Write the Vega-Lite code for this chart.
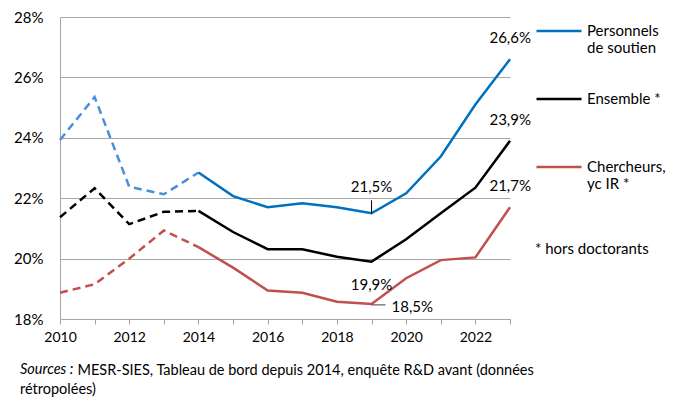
{
  "$schema": "https://vega.github.io/schema/vega-lite/v6.json",
  "autosize": "none",
  "width": 450,
  "height": 302,
  "padding": {"left": 60, "top": 17, "right": 167, "bottom": 82},
  "background": "white",
  "title": {
    "text": "Sources :",
    "subtitle": "rétropolées)",
    "orient": "bottom",
    "anchor": "start",
    "frame": "group",
    "dx": -40,
    "offset": -14,
    "font": "Lato",
    "fontSize": 14.5,
    "fontStyle": "italic",
    "fontWeight": "normal",
    "color": "#000000",
    "subtitleFont": "Lato",
    "subtitleFontSize": 14.5,
    "subtitleFontStyle": "normal",
    "subtitleColor": "#000000",
    "subtitlePadding": 6
  },
  "data": {
    "values": [
      {"year": 2010, "value": 23.93, "series": "Personnels de soutien"},
      {"year": 2011, "value": 25.35, "series": "Personnels de soutien"},
      {"year": 2012, "value": 22.38, "series": "Personnels de soutien"},
      {"year": 2013, "value": 22.13, "series": "Personnels de soutien"},
      {"year": 2014, "value": 22.85, "series": "Personnels de soutien"},
      {"year": 2015, "value": 22.07, "series": "Personnels de soutien"},
      {"year": 2016, "value": 21.7, "series": "Personnels de soutien"},
      {"year": 2017, "value": 21.83, "series": "Personnels de soutien"},
      {"year": 2018, "value": 21.7, "series": "Personnels de soutien"},
      {"year": 2019, "value": 21.5, "series": "Personnels de soutien", "label": "21,5%"},
      {"year": 2020, "value": 22.16, "series": "Personnels de soutien"},
      {"year": 2021, "value": 23.38, "series": "Personnels de soutien"},
      {"year": 2022, "value": 25.1, "series": "Personnels de soutien"},
      {"year": 2023, "value": 26.6, "series": "Personnels de soutien", "label": "26,6%"},
      {"year": 2010, "value": 21.37, "series": "Ensemble *"},
      {"year": 2011, "value": 22.33, "series": "Ensemble *"},
      {"year": 2012, "value": 21.14, "series": "Ensemble *"},
      {"year": 2013, "value": 21.55, "series": "Ensemble *"},
      {"year": 2014, "value": 21.58, "series": "Ensemble *"},
      {"year": 2015, "value": 20.88, "series": "Ensemble *"},
      {"year": 2016, "value": 20.31, "series": "Ensemble *"},
      {"year": 2017, "value": 20.31, "series": "Ensemble *"},
      {"year": 2018, "value": 20.06, "series": "Ensemble *"},
      {"year": 2019, "value": 19.9, "series": "Ensemble *", "label": "19,9%"},
      {"year": 2020, "value": 20.64, "series": "Ensemble *"},
      {"year": 2021, "value": 21.5, "series": "Ensemble *"},
      {"year": 2022, "value": 22.35, "series": "Ensemble *"},
      {"year": 2023, "value": 23.9, "series": "Ensemble *", "label": "23,9%"},
      {"year": 2010, "value": 18.87, "series": "Chercheurs, yc IR *"},
      {"year": 2011, "value": 19.15, "series": "Chercheurs, yc IR *"},
      {"year": 2012, "value": 20.0, "series": "Chercheurs, yc IR *"},
      {"year": 2013, "value": 20.93, "series": "Chercheurs, yc IR *"},
      {"year": 2014, "value": 20.38, "series": "Chercheurs, yc IR *"},
      {"year": 2015, "value": 19.7, "series": "Chercheurs, yc IR *"},
      {"year": 2016, "value": 18.94, "series": "Chercheurs, yc IR *"},
      {"year": 2017, "value": 18.87, "series": "Chercheurs, yc IR *"},
      {"year": 2018, "value": 18.57, "series": "Chercheurs, yc IR *"},
      {"year": 2019, "value": 18.5, "series": "Chercheurs, yc IR *", "label": "18,5%"},
      {"year": 2020, "value": 19.35, "series": "Chercheurs, yc IR *"},
      {"year": 2021, "value": 19.95, "series": "Chercheurs, yc IR *"},
      {"year": 2022, "value": 20.04, "series": "Chercheurs, yc IR *"},
      {"year": 2023, "value": 21.7, "series": "Chercheurs, yc IR *", "label": "21,7%"}
    ]
  },
  "encoding": {
    "x": {
      "field": "year",
      "type": "quantitative",
      "scale": {"domain": [2010, 2023], "nice": false, "zero": false},
      "axis": {
        "values": [2010, 2011, 2012, 2013, 2014, 2015, 2016, 2017, 2018, 2019, 2020, 2021, 2022, 2023],
        "format": "d",
        "labelExpr": "datum.value % 2 == 0 && datum.value < 2023 ? datum.label : ''",
        "grid": false,
        "tickSize": 5,
        "tickColor": "#A6A6A6",
        "domainColor": "#A6A6A6",
        "labelFont": "Lato",
        "labelFontSize": 14,
        "labelColor": "#000000",
        "labelPadding": 6,
        "labelFlush": false,
        "labelOverlap": false,
        "title": "MESR-SIES, Tableau de bord depuis 2014, enquête R&D avant (données",
        "titleX": 17,
        "titleY": 55,
        "titleAlign": "left",
        "titleAnchor": "start",
        "titleBaseline": "alphabetic",
        "titleFont": "Lato",
        "titleFontSize": 14.5,
        "titleFontWeight": "normal",
        "titleColor": "#000000"
      }
    },
    "y": {
      "field": "value",
      "type": "quantitative",
      "scale": {"domain": [18, 28], "nice": false, "zero": false},
      "axis": {
        "values": [18, 20, 22, 24, 26, 28],
        "labelExpr": "datum.value + '%'",
        "grid": true,
        "gridColor": "#A6A6A6",
        "gridWidth": 1,
        "ticks": false,
        "domainColor": "#A6A6A6",
        "labelFont": "Lato",
        "labelFontSize": 15,
        "labelColor": "#000000",
        "labelPadding": 17,
        "title": null
      }
    }
  },
  "layer": [
    {
      "transform": [{"filter": "datum.year <= 2014"}],
      "mark": {"type": "line", "strokeWidth": 2.5, "strokeDash": [8, 5]},
      "encoding": {
        "color": {
          "field": "series",
          "type": "nominal",
          "scale": {
            "domain": ["Personnels de soutien", "Ensemble *", "Chercheurs, yc IR *"],
            "range": ["#4A8FDC", "#000000", "#C0504D"]
          },
          "legend": null
        }
      }
    },
    {
      "transform": [{"filter": "datum.year >= 2014"}],
      "mark": {"type": "line", "strokeWidth": 2.5},
      "encoding": {
        "color": {
          "field": "series",
          "type": "nominal",
          "scale": {
            "domain": ["Personnels de soutien", "Ensemble *", "Chercheurs, yc IR *"],
            "range": ["#0070C0", "#000000", "#C0504D"]
          },
          "legend": {
            "orient": "none",
            "legendX": 475,
            "legendY": -10,
            "padding": 0,
            "symbolType": "stroke",
            "symbolSize": 2025,
            "symbolStrokeWidth": 2.5,
            "labelFont": "Lato",
            "labelFontSize": 15,
            "labelColor": "#000000",
            "labelLimit": 0,
            "labelOffset": 4,
            "labelExpr": "datum.label == 'Personnels de soutien' ? ['Personnels', 'de soutien'] : datum.label == 'Chercheurs, yc IR *' ? ['Chercheurs,', 'yc IR *'] : [datum.label, '']",
            "rowPadding": 19,
            "title": "* hors doctorants",
            "titleOrient": "bottom",
            "titleFont": "Lato",
            "titleFontSize": 15,
            "titleFontWeight": "normal",
            "titleColor": "#000000",
            "titlePadding": 50,
            "titleLimit": 0
          }
        }
      }
    },
    {
      "transform": [{"filter": "datum.year == 2023"}],
      "mark": {"type": "text", "align": "right", "baseline": "middle", "dx": 21, "dy": -21, "font": "Lato", "fontSize": 15, "color": "#000000"},
      "encoding": {"text": {"field": "label"}}
    },
    {
      "transform": [{"filter": "datum.year == 2019 && datum.series == 'Personnels de soutien'"}],
      "mark": {"type": "text", "align": "center", "baseline": "middle", "dy": -26, "font": "Lato", "fontSize": 15, "color": "#000000"},
      "encoding": {"text": {"field": "label"}}
    },
    {
      "transform": [{"filter": "datum.year == 2019 && datum.series == 'Ensemble *'"}],
      "mark": {"type": "text", "align": "center", "baseline": "middle", "dy": 23, "font": "Lato", "fontSize": 15, "color": "#000000"},
      "encoding": {"text": {"field": "label"}}
    },
    {
      "transform": [{"filter": "datum.year == 2019 && datum.series == 'Chercheurs, yc IR *'"}],
      "mark": {"type": "text", "align": "left", "baseline": "middle", "dx": 20, "dy": 3, "font": "Lato", "fontSize": 15, "color": "#000000"},
      "encoding": {"text": {"field": "label"}}
    },
    {
      "transform": [{"filter": "datum.year == 2019 && datum.series == 'Personnels de soutien'"}],
      "mark": {"type": "rule", "color": "#000000", "strokeWidth": 1, "y2Offset": -13},
      "encoding": {"y2": {"field": "value"}}
    },
    {
      "transform": [{"filter": "datum.year == 2019 && datum.series == 'Chercheurs, yc IR *'"}],
      "mark": {"type": "rule", "color": "#404040", "strokeWidth": 1, "x2Offset": 14, "yOffset": 1},
      "encoding": {"x2": {"field": "year"}}
    }
  ],
  "resolve": {"scale": {"color": "independent"}},
  "config": {"view": {"stroke": null}}
}
